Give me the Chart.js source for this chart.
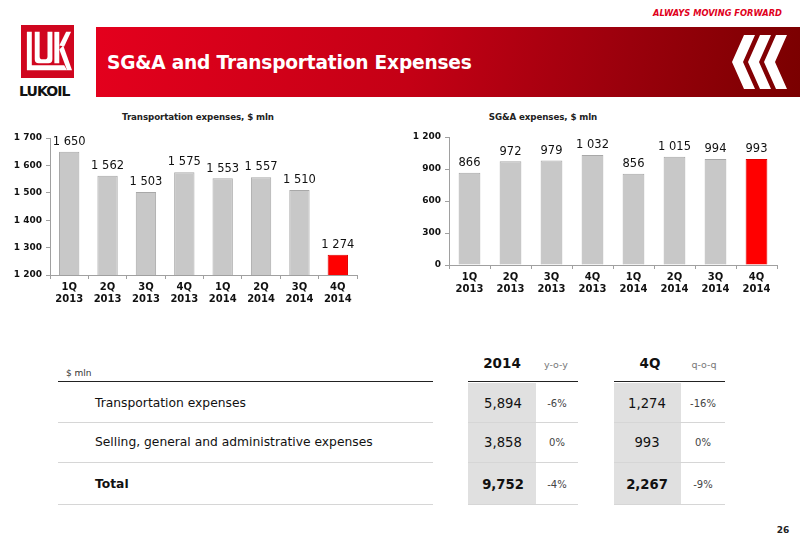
<!DOCTYPE html>
<html>
<head>
<meta charset="utf-8">
<script src="https://cdn.jsdelivr.net/npm/chart.js@4/dist/chart.umd.min.js"></script>
<style>
  html, body { margin: 0; padding: 0; background: #fff; }
  body { width: 800px; height: 554px; position: relative; overflow: hidden; font-family: "DejaVu Sans", Verdana, sans-serif; color: #111; }
  .abs { position: absolute; }
  .t { position: absolute; white-space: nowrap; transform: translateY(-50%); }
  .c { transform: translate(-50%, -50%); }
  .hl { position: absolute; height: 0; }
  .chart-box { position: absolute; }
  .ctitle { position: absolute; font-size: 8.7px; font-weight: bold; color: #222; transform: translate(-50%, -50%); white-space: nowrap; letter-spacing: -0.1px; }
  .row { font-size: 12.3px; }
  .num { font-size: 13.2px; }
  .pct { font-size: 10px; color: #444; }
</style>
</head>
<body>

<!-- header -->
<div class="t" style="left:653px;top:13px;font-size:8.3px;font-weight:bold;font-style:italic;color:#e0001b;">ALWAYS MOVING FORWARD</div>
<div class="abs" style="left:21px;top:25px;width:53px;height:53px;background:#d0061f;"></div>
<svg class="abs" style="left:21px;top:25px" width="53" height="53" viewBox="0 0 54 54">
  <path d="M6 7 h5 v34 h33 l3 5 h-41 z" fill="#fff"/>
  <path d="M14 7 h5 v25 q0 3 3 3 h2 q3 0 3 -3 v-25 h5 v28 q0 4 -4 4 h-10 q-4 0 -4 -4 z" fill="#fff"/>
  <path d="M34 7 h5 v32 h-5 z" fill="#fff"/>
  <path d="M39 21 l7 -14 h5 l-7 15 z" fill="#fff"/>
  <path d="M39 25 l4 -4 l9 25 h-5 z" fill="#fff"/>
</svg>
<div class="t" style="left:19px;top:91px;font-size:14px;font-weight:bold;letter-spacing:-0.9px;color:#111;">LUKOIL</div>
<div class="abs" style="left:96px;top:27px;width:704px;height:70px;background:linear-gradient(100deg,#e4001d 0%,#c40015 45%,#9a000c 75%,#7a0000 100%);"></div>
<div class="t" style="left:107px;top:62px;font-size:18.6px;font-weight:bold;color:#fff;letter-spacing:-0.2px;">SG&amp;A and Transportation Expenses</div>
<svg class="abs" style="left:732px;top:35px" width="58" height="54" viewBox="0 0 58 54">
  <polygon points="12,0 23,0 11,27 23,54 12,54 0,27" fill="#fff"/>
  <polygon points="28,0 39,0 27,27 39,54 28,54 16,27" fill="#fff"/>
  <polygon points="44,0 55,0 43,27 55,54 44,54 32,27" fill="#fff"/>
</svg>

<!-- charts -->
<div class="ctitle" style="left:198px;top:117px;">Transportation expenses, $ mln</div>
<div class="ctitle" style="left:543px;top:117px;">SG&amp;A expenses, $ mln</div>
<div class="chart-box" style="left:10px;top:127px;width:350px;height:180px;"><canvas id="transportChart"></canvas></div>
<div class="chart-box" style="left:400px;top:126px;width:380px;height:171px;"><canvas id="sgaChart"></canvas></div>

<!-- table -->
<div class="t" style="left:66px;top:373px;font-size:9px;color:#333;">$ mln</div>
<div class="hl" style="left:58px;top:381px;width:375px;border-top:1.5px solid #222;"></div>
<div class="hl" style="left:58px;top:422px;width:375px;border-top:1px solid #d6d6d6;"></div>
<div class="hl" style="left:58px;top:462px;width:375px;border-top:1px solid #d6d6d6;"></div>
<div class="hl" style="left:58px;top:504px;width:375px;border-top:1px solid #d6d6d6;"></div>
<div class="t row" style="left:95px;top:403px;">Transportation expenses</div>
<div class="t row" style="left:95px;top:442px;">Selling, general and administrative expenses</div>
<div class="t row" style="left:95px;top:484px;font-weight:bold;">Total</div>

<div class="abs" style="left:468px;top:383px;width:68px;height:121px;background:#e0e0e0;"></div>
<div class="hl" style="left:468px;top:381px;width:110px;border-top:1.5px solid #222;"></div>
<div class="hl" style="left:468px;top:422px;width:110px;border-top:1px solid #d6d6d6;"></div>
<div class="hl" style="left:468px;top:462px;width:110px;border-top:1px solid #d6d6d6;"></div>
<div class="hl" style="left:468px;top:504px;width:110px;border-top:1px solid #d6d6d6;"></div>
<div class="t c" style="left:502px;top:363px;font-size:13.5px;font-weight:bold;">2014</div>
<div class="t c" style="left:556px;top:364px;font-size:9.5px;color:#777;">y-o-y</div>
<div class="t c num" style="left:503px;top:403px;">5,894</div>
<div class="t c num" style="left:503px;top:442px;">3,858</div>
<div class="t c num" style="left:503px;top:484px;font-weight:bold;">9,752</div>
<div class="t c pct" style="left:557px;top:403px;">-6%</div>
<div class="t c pct" style="left:557px;top:442px;">0%</div>
<div class="t c pct" style="left:557px;top:484px;">-4%</div>

<div class="abs" style="left:614px;top:383px;width:67px;height:121px;background:#e0e0e0;"></div>
<div class="hl" style="left:614px;top:381px;width:111px;border-top:1.5px solid #222;"></div>
<div class="hl" style="left:614px;top:422px;width:111px;border-top:1px solid #d6d6d6;"></div>
<div class="hl" style="left:614px;top:462px;width:111px;border-top:1px solid #d6d6d6;"></div>
<div class="hl" style="left:614px;top:504px;width:111px;border-top:1px solid #d6d6d6;"></div>
<div class="t c" style="left:650px;top:363px;font-size:13.5px;font-weight:bold;">4Q</div>
<div class="t c" style="left:704px;top:364px;font-size:9.5px;color:#777;">q-o-q</div>
<div class="t c num" style="left:647px;top:403px;">1,274</div>
<div class="t c num" style="left:647px;top:442px;">993</div>
<div class="t c num" style="left:647px;top:484px;font-weight:bold;">2,267</div>
<div class="t c pct" style="left:703px;top:403px;">-16%</div>
<div class="t c pct" style="left:703px;top:442px;">0%</div>
<div class="t c pct" style="left:703px;top:484px;">-9%</div>

<div class="t c" style="left:783px;top:530px;font-size:9px;font-weight:bold;color:#222;">26</div>

<script>
'use strict';
const quarters = [['1Q', '2013'], ['2Q', '2013'], ['3Q', '2013'], ['4Q', '2013'],
                  ['1Q', '2014'], ['2Q', '2014'], ['3Q', '2014'], ['4Q', '2014']];
const transportValues = [1650, 1562, 1503, 1575, 1553, 1557, 1510, 1274];
const sgaValues = [866, 972, 979, 1032, 856, 1015, 994, 993];
const transportTicks = { min: 1200, max: 1700, step: 100 };
const sgaTicks = { min: 0, max: 1200, step: 300 };

const GREY = '#c8c8c8', GREY_EDGE = '#a8a8a8', RED = '#ff0000';
const fmt = v => String(v).replace(/\B(?=(\d{3})+(?!\d))/g, ' ');

const valueLabels = {
    id: 'valueLabels',
    afterDatasetsDraw(chart) {
        const ctx = chart.ctx;
        const meta = chart.getDatasetMeta(0);
        ctx.save();
        ctx.font = '11.5px "DejaVu Sans", Verdana, sans-serif';
        ctx.fillStyle = '#111';
        ctx.textAlign = 'center';
        ctx.textBaseline = 'bottom';
        meta.data.forEach((bar, i) => {
            ctx.fillText(fmt(chart.data.datasets[0].data[i]), bar.x, bar.y - 4);
        });
        ctx.restore();
    }
};

function barChart(canvasId, values, ticks, yWidth) {
    const ctx = document.getElementById(canvasId);
    if (!ctx) return;
    const last = values.length - 1;
    new Chart(ctx, {
        type: 'bar',
        data: {
            labels: quarters,
            datasets: [{
                data: values,
                backgroundColor: values.map((v, i) => i === last ? RED : GREY),
                borderColor: values.map((v, i) => i === last ? '#e00000' : GREY_EDGE),
                borderWidth: 1,
                barPercentage: 0.53,
                categoryPercentage: 1
            }]
        },
        plugins: [valueLabels],
        options: {
            responsive: true,
            maintainAspectRatio: false,
            animation: false,
            layout: { padding: { top: 11, right: 3, bottom: 0, left: 0 } },
            plugins: { legend: { display: false }, tooltip: { enabled: false } },
            scales: {
                x: {
                    grid: { display: true, drawOnChartArea: false, color: '#a0a0a0', tickLength: 4, offset: true },
                    border: { color: '#a0a0a0' },
                    ticks: { color: '#111', font: { size: 10, weight: 'bold', family: '"DejaVu Sans", Verdana, sans-serif' }, padding: 2, maxRotation: 0, autoSkip: false },
                    afterFit: s => { s.height = 32; }
                },
                y: {
                    min: ticks.min, max: ticks.max,
                    grid: { display: true, drawOnChartArea: false, color: '#a0a0a0', tickLength: 4 },
                    border: { color: '#a0a0a0' },
                    ticks: { stepSize: ticks.step, color: '#111', padding: 4, callback: v => fmt(v),
                             font: { size: 9, weight: 'bold', family: '"DejaVu Sans", Verdana, sans-serif' } },
                    afterFit: s => { s.width = yWidth; }
                }
            }
        }
    });
}

barChart('transportChart', transportValues, transportTicks, 40);
barChart('sgaChart', sgaValues, sgaTicks, 49);
</script>
</body>
</html>
